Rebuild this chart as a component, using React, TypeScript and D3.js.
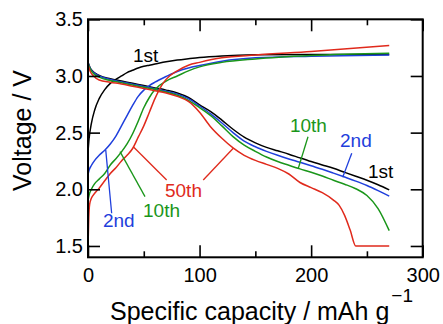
import { useEffect, useRef } from "react"
import * as d3 from "d3"

// discharge curves (shared capacity grid for 1st, 2nd, 10th)
const dischargeCap = [0, 2, 5, 10, 20, 30, 40, 50, 60, 70, 80, 90, 100, 110, 120, 130, 140, 150, 160, 170, 180, 190, 200, 210, 220, 230, 240, 250, 260, 270]
const discharge1st = [3.12, 3.07, 3.035, 3.005, 2.975, 2.955, 2.935, 2.915, 2.895, 2.875, 2.85, 2.81, 2.745, 2.685, 2.61, 2.53, 2.46, 2.41, 2.37, 2.34, 2.31, 2.277, 2.245, 2.215, 2.185, 2.15, 2.115, 2.08, 2.04, 1.995]
const discharge2nd = [3.12, 3.065, 3.03, 3.0, 2.968, 2.948, 2.928, 2.908, 2.888, 2.866, 2.84, 2.8, 2.735, 2.665, 2.585, 2.5, 2.425, 2.375, 2.335, 2.3, 2.268, 2.238, 2.207, 2.177, 2.143, 2.108, 2.072, 2.033, 1.988, 1.94]
const discharge10th = [3.11, 3.06, 3.02, 2.99, 2.96, 2.94, 2.92, 2.9, 2.88, 2.858, 2.83, 2.785, 2.72, 2.65, 2.56, 2.465, 2.39, 2.335, 2.285, 2.245, 2.212, 2.18, 2.15, 2.117, 2.08, 2.045, 2.005, 1.945, 1.83, 1.635]
const discharge50thCap = [0, 2, 5, 10, 20, 30, 40, 50, 60, 70, 80, 90, 100, 110, 120, 130, 140, 150, 160, 170, 180, 190, 200, 210, 220, 225, 230, 235, 240, 270]
const discharge50th = [3.1, 3.04, 3.0, 2.965, 2.945, 2.93, 2.91, 2.89, 2.87, 2.85, 2.82, 2.775, 2.68, 2.55, 2.45, 2.365, 2.3, 2.255, 2.22, 2.185, 2.135, 2.06, 2.015, 1.97, 1.905, 1.86, 1.77, 1.64, 1.5, 1.5]

// charge curves
const chargeCap = [0, 1, 3, 6, 10, 15, 20, 25, 30, 35, 40, 45, 50, 55, 60, 70, 80, 90, 100, 120, 150, 200, 270]
const charge1st = [2.33, 2.45, 2.58, 2.7, 2.8, 2.88, 2.935, 2.97, 3.0, 3.03, 3.05, 3.07, 3.085, 3.095, 3.105, 3.125, 3.14, 3.152, 3.163, 3.177, 3.187, 3.19, 3.19]
const charge2nd = [2.13, 2.17, 2.21, 2.255, 2.3, 2.345, 2.4, 2.47, 2.56, 2.65, 2.74, 2.82, 2.875, 2.915, 2.945, 2.995, 3.04, 3.07, 3.092, 3.13, 3.16, 3.175, 3.186]
const charge10th = [1.9, 1.95, 2.0, 2.05, 2.09, 2.14, 2.215, 2.27, 2.33, 2.4, 2.49, 2.6, 2.72, 2.81, 2.88, 2.955, 3.0, 3.045, 3.08, 3.12, 3.15, 3.18, 3.2]
const charge50thCap = [0, 0.3, 0.7, 1.5, 3, 6, 10, 15, 20, 25, 30, 35, 40, 45, 50, 55, 60, 65, 70, 80, 90, 100, 120, 150, 200, 270]
const charge50th = [1.5, 1.6, 1.75, 1.87, 1.92, 1.965, 2.01, 2.075, 2.14, 2.19, 2.25, 2.3, 2.36, 2.46, 2.56, 2.68, 2.8, 2.9, 2.97, 3.045, 3.095, 3.12, 3.16, 3.185, 3.215, 3.268]

const xMajorTicks = [0, 100, 200, 300]
const xMinorTicks = [50, 150, 250]
const yTicks = [1.5, 2.0, 2.5, 3.0, 3.5]

const colors = { first: "#000000", second: "#1f3fdc", tenth: "#1a961a", fiftieth: "#e02a1c" }

// cycle labels: text, capacity, voltage (baseline start)
const labelText = ["1st", "1st", "2nd", "10th", "2nd", "10th", "50th"]
const labelCap = [40.3, 251, 225.9, 181, 13.4, 49.3, 69]
const labelVolt = [3.124, 2.1, 2.374, 2.506, 1.668, 1.756, 1.932]
const labelColor = [colors.first, colors.first, colors.second, colors.tenth, colors.second, colors.tenth, colors.fiftieth]

// leader lines [cap1, volt1, cap2, volt2]
const leaders = [
  { c: colors.second, p: [21.2, 1.789, 15.9, 2.347] },
  { c: colors.tenth, p: [51.1, 1.935, 28.7, 2.332] },
  { c: colors.fiftieth, p: [70.5, 2.082, 40.6, 2.376] },
  { c: colors.fiftieth, p: [103.3, 2.082, 130.2, 2.362] },
  { c: colors.tenth, p: [197.2, 2.464, 188.5, 2.186] },
  { c: colors.second, p: [236.4, 2.318, 228.3, 2.106] },
]

const FONT = "'Liberation Sans', Arial, Helvetica, sans-serif"

export default function App() {
  const svgRef = useRef<SVGSVGElement | null>(null)

  useEffect(() => {
    if (!svgRef.current) return
    d3.select(svgRef.current).selectAll("*").remove()

    const margin = { top: 19.3, right: 20.3, bottom: 66.7, left: 88 }
    const width = 443 - margin.left - margin.right
    const height = 324 - margin.top - margin.bottom

    const svg = d3.select(svgRef.current).append("g").attr("transform", `translate(${margin.left},${margin.top})`)

    const x = d3.scaleLinear().domain([0, 300]).range([0, width])
    const y = d3.scaleLinear().domain([1.4, 3.5]).range([height, 0])

    const line = d3
      .line<[number, number]>()
      .x((d) => x(d[0]))
      .y((d) => y(d[1]))
      .curve(d3.curveMonotoneX)

    const curves = [
      { cap: chargeCap, v: charge1st, c: colors.first },
      { cap: dischargeCap, v: discharge1st, c: colors.first },
      { cap: chargeCap, v: charge2nd, c: colors.second },
      { cap: dischargeCap, v: discharge2nd, c: colors.second },
      { cap: chargeCap, v: charge10th, c: colors.tenth },
      { cap: dischargeCap, v: discharge10th, c: colors.tenth },
      { cap: charge50thCap, v: charge50th, c: colors.fiftieth },
      { cap: discharge50thCap, v: discharge50th, c: colors.fiftieth },
    ]

    const clip = svg.append("clipPath").attr("id", "plot-clip")
    clip.append("rect").attr("width", width).attr("height", height)

    svg
      .append("g")
      .attr("clip-path", "url(#plot-clip)")
      .selectAll("path")
      .data(curves)
      .enter()
      .append("path")
      .attr("d", (d) => line(d.cap.map((c, i) => [c, d.v[i]] as [number, number])))
      .attr("fill", "none")
      .attr("stroke", (d) => d.c)
      .attr("stroke-width", 1.5)

    // leader lines
    svg
      .selectAll(".leader")
      .data(leaders)
      .enter()
      .append("line")
      .attr("x1", (d) => x(d.p[0]))
      .attr("y1", (d) => y(d.p[1]))
      .attr("x2", (d) => x(d.p[2]))
      .attr("y2", (d) => y(d.p[3]))
      .attr("stroke", (d) => d.c)
      .attr("stroke-width", 1.3)

    // labels
    svg
      .selectAll(".label")
      .data(labelText)
      .enter()
      .append("text")
      .attr("x", (_, i) => x(labelCap[i]))
      .attr("y", (_, i) => y(labelVolt[i]))
      .attr("fill", (_, i) => labelColor[i])
      .attr("font-family", FONT)
      .attr("font-size", 19)
      .text((d) => d)

    // axes: major ticks inward with labels
    const styleAxis = (g: any) => {
      g.select(".domain").remove()
      g.selectAll("line").attr("stroke", "#000").attr("stroke-width", 1.6)
      g.selectAll("text").attr("font-family", FONT).attr("font-size", 20).attr("fill", "#000")
    }

    svg
      .append("g")
      .attr("transform", `translate(0,${height})`)
      .call(d3.axisBottom(x).tickValues(xMajorTicks).tickSize(-12).tickPadding(11).tickFormat(d3.format("d")))
      .call(styleAxis)
    svg
      .append("g")
      .attr("transform", `translate(0,${height})`)
      .call(d3.axisBottom(x).tickValues(xMinorTicks).tickSize(-6).tickFormat(() => ""))
      .call(styleAxis)
    svg.append("g").call(d3.axisTop(x).tickValues(xMajorTicks).tickSize(-12).tickFormat(() => "")).call(styleAxis)
    svg.append("g").call(d3.axisTop(x).tickValues(xMinorTicks).tickSize(-6).tickFormat(() => "")).call(styleAxis)
    svg
      .append("g")
      .call(d3.axisLeft(y).tickValues(yTicks).tickSize(-12).tickPadding(5).tickFormat(d3.format(".1f")))
      .call(styleAxis)
    svg
      .append("g")
      .attr("transform", `translate(${width},0)`)
      .call(d3.axisRight(y).tickValues(yTicks).tickSize(-12).tickFormat(() => ""))
      .call(styleAxis)

    // frame
    svg
      .append("rect")
      .attr("width", width)
      .attr("height", height)
      .attr("fill", "none")
      .attr("stroke", "#000")
      .attr("stroke-width", 2)

    // axis titles
    const xTitle = svg
      .append("text")
      .attr("x", 110 - margin.left)
      .attr("y", 320 - margin.top)
      .attr("font-family", FONT)
      .attr("font-size", 25)
      .attr("fill", "#000")
    xTitle.append("tspan").text("Specific capacity / mAh g")
    xTitle.append("tspan").attr("dx", 2).attr("dy", -18).attr("font-size", 19).text("\u22121")

    svg
      .append("text")
      .attr("transform", `translate(${31 - margin.left},${130.5 - margin.top}) rotate(-90)`)
      .attr("text-anchor", "middle")
      .attr("font-family", FONT)
      .attr("font-size", 25)
      .attr("fill", "#000")
      .text("Voltage / V")
  }, [])

  return (
    <div style={{ position: "absolute", left: 0, top: 0 }}>
      <svg ref={svgRef} width={443} height={324} style={{ display: "block", background: "#fff" }}></svg>
    </div>
  )
}
